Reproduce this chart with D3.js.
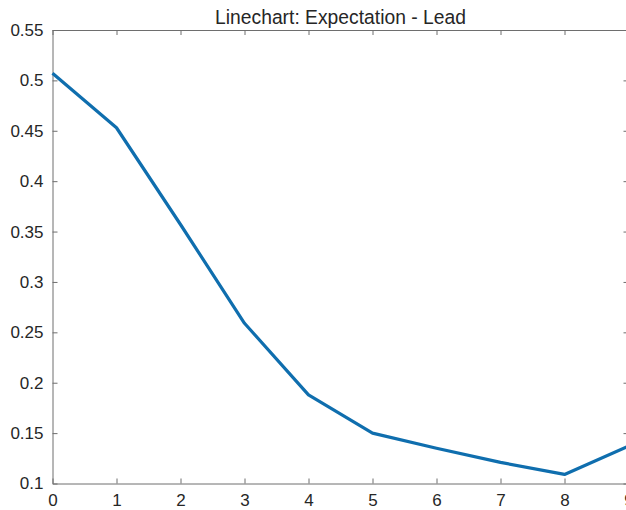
<!DOCTYPE html>
<html>
<head>
<meta charset="utf-8">
<script src="https://cdn.jsdelivr.net/npm/d3@7"></script>
<style>
  html, body { margin: 0; padding: 0; background: #fff; overflow: hidden; }
  svg { display: block; font-family: "Liberation Sans", Arial, sans-serif; }
</style>
</head>
<body>
<svg id="chart" width="626" height="510"></svg>
<script>
// Expected value per lead step
const steps = [0, 1, 2, 3, 4, 5, 6, 7, 8, 9];
const expectation = [0.507, 0.453, 0.357, 0.259, 0.188, 0.150, 0.135, 0.121, 0.109, 0.137];
const yTicks = [0.1, 0.15, 0.2, 0.25, 0.3, 0.35, 0.4, 0.45, 0.5, 0.55];
const xTicks = [0, 1, 2, 3, 4, 5, 6, 7, 8, 9];
const titleText = "Linechart: Expectation - Lead";

const svg = d3.select("#chart");
const plotLeft = 52.5, plotRight = 628.5, plotTop = 30, plotBottom = 483.5;

const x = d3.scaleLinear().domain([0, 9]).range([plotLeft, plotRight]);
const y = d3.scaleLinear().domain([0.1, 0.55]).range([plotBottom, plotTop]);

const axisColor = "#6e6e6e";
const textColor = "#262626";
const fontSize = "17px";

const fmt = d => String(+d.toFixed(2));

// Bottom axis with inward ticks
const gx = svg.append("g").attr("transform", `translate(0,${plotBottom})`)
  .call(d3.axisBottom(x).tickValues(xTicks).tickSizeInner(-5).tickSizeOuter(0).tickPadding(10).tickFormat(fmt));
// Top axis (ticks only)
const gxt = svg.append("g").attr("transform", `translate(0,${plotTop})`)
  .call(d3.axisTop(x).tickValues(xTicks).tickSizeInner(-5).tickSizeOuter(0).tickFormat(""));
// Left axis
const gy = svg.append("g").attr("transform", `translate(${plotLeft},0)`)
  .call(d3.axisLeft(y).tickValues(yTicks).tickSizeInner(-5).tickSizeOuter(0).tickPadding(9).tickFormat(fmt));
// Right axis (ticks only)
const gyr = svg.append("g").attr("transform", `translate(${plotRight},0)`)
  .call(d3.axisRight(y).tickValues(yTicks).tickSizeInner(-5).tickSizeOuter(0).tickFormat(""));

[gx, gxt, gy, gyr].forEach(g => {
  g.selectAll("path.domain").attr("stroke", axisColor).attr("stroke-width", 1);
  g.selectAll(".tick line").attr("stroke", axisColor).attr("stroke-width", 1);
  g.selectAll(".tick text").attr("fill", textColor)
    .style("font-size", fontSize)
    .style("font-family", '"Liberation Sans", Arial, sans-serif');
});
gx.selectAll(".tick text").attr("dy", "0.75em");

// Data line
const line = d3.line().x((d, i) => x(steps[i])).y(d => y(d));
svg.append("path")
  .datum(expectation)
  .attr("fill", "none")
  .attr("stroke", "#0f6eae")
  .attr("stroke-width", 3.2)
  .attr("stroke-linejoin", "round")
  .attr("d", line);

// Title
svg.append("text")
  .attr("x", 340.5)
  .attr("y", 24)
  .attr("text-anchor", "middle")
  .attr("fill", textColor)
  .style("font-size", "19.3px")
  .text(titleText);
</script>
</body>
</html>
